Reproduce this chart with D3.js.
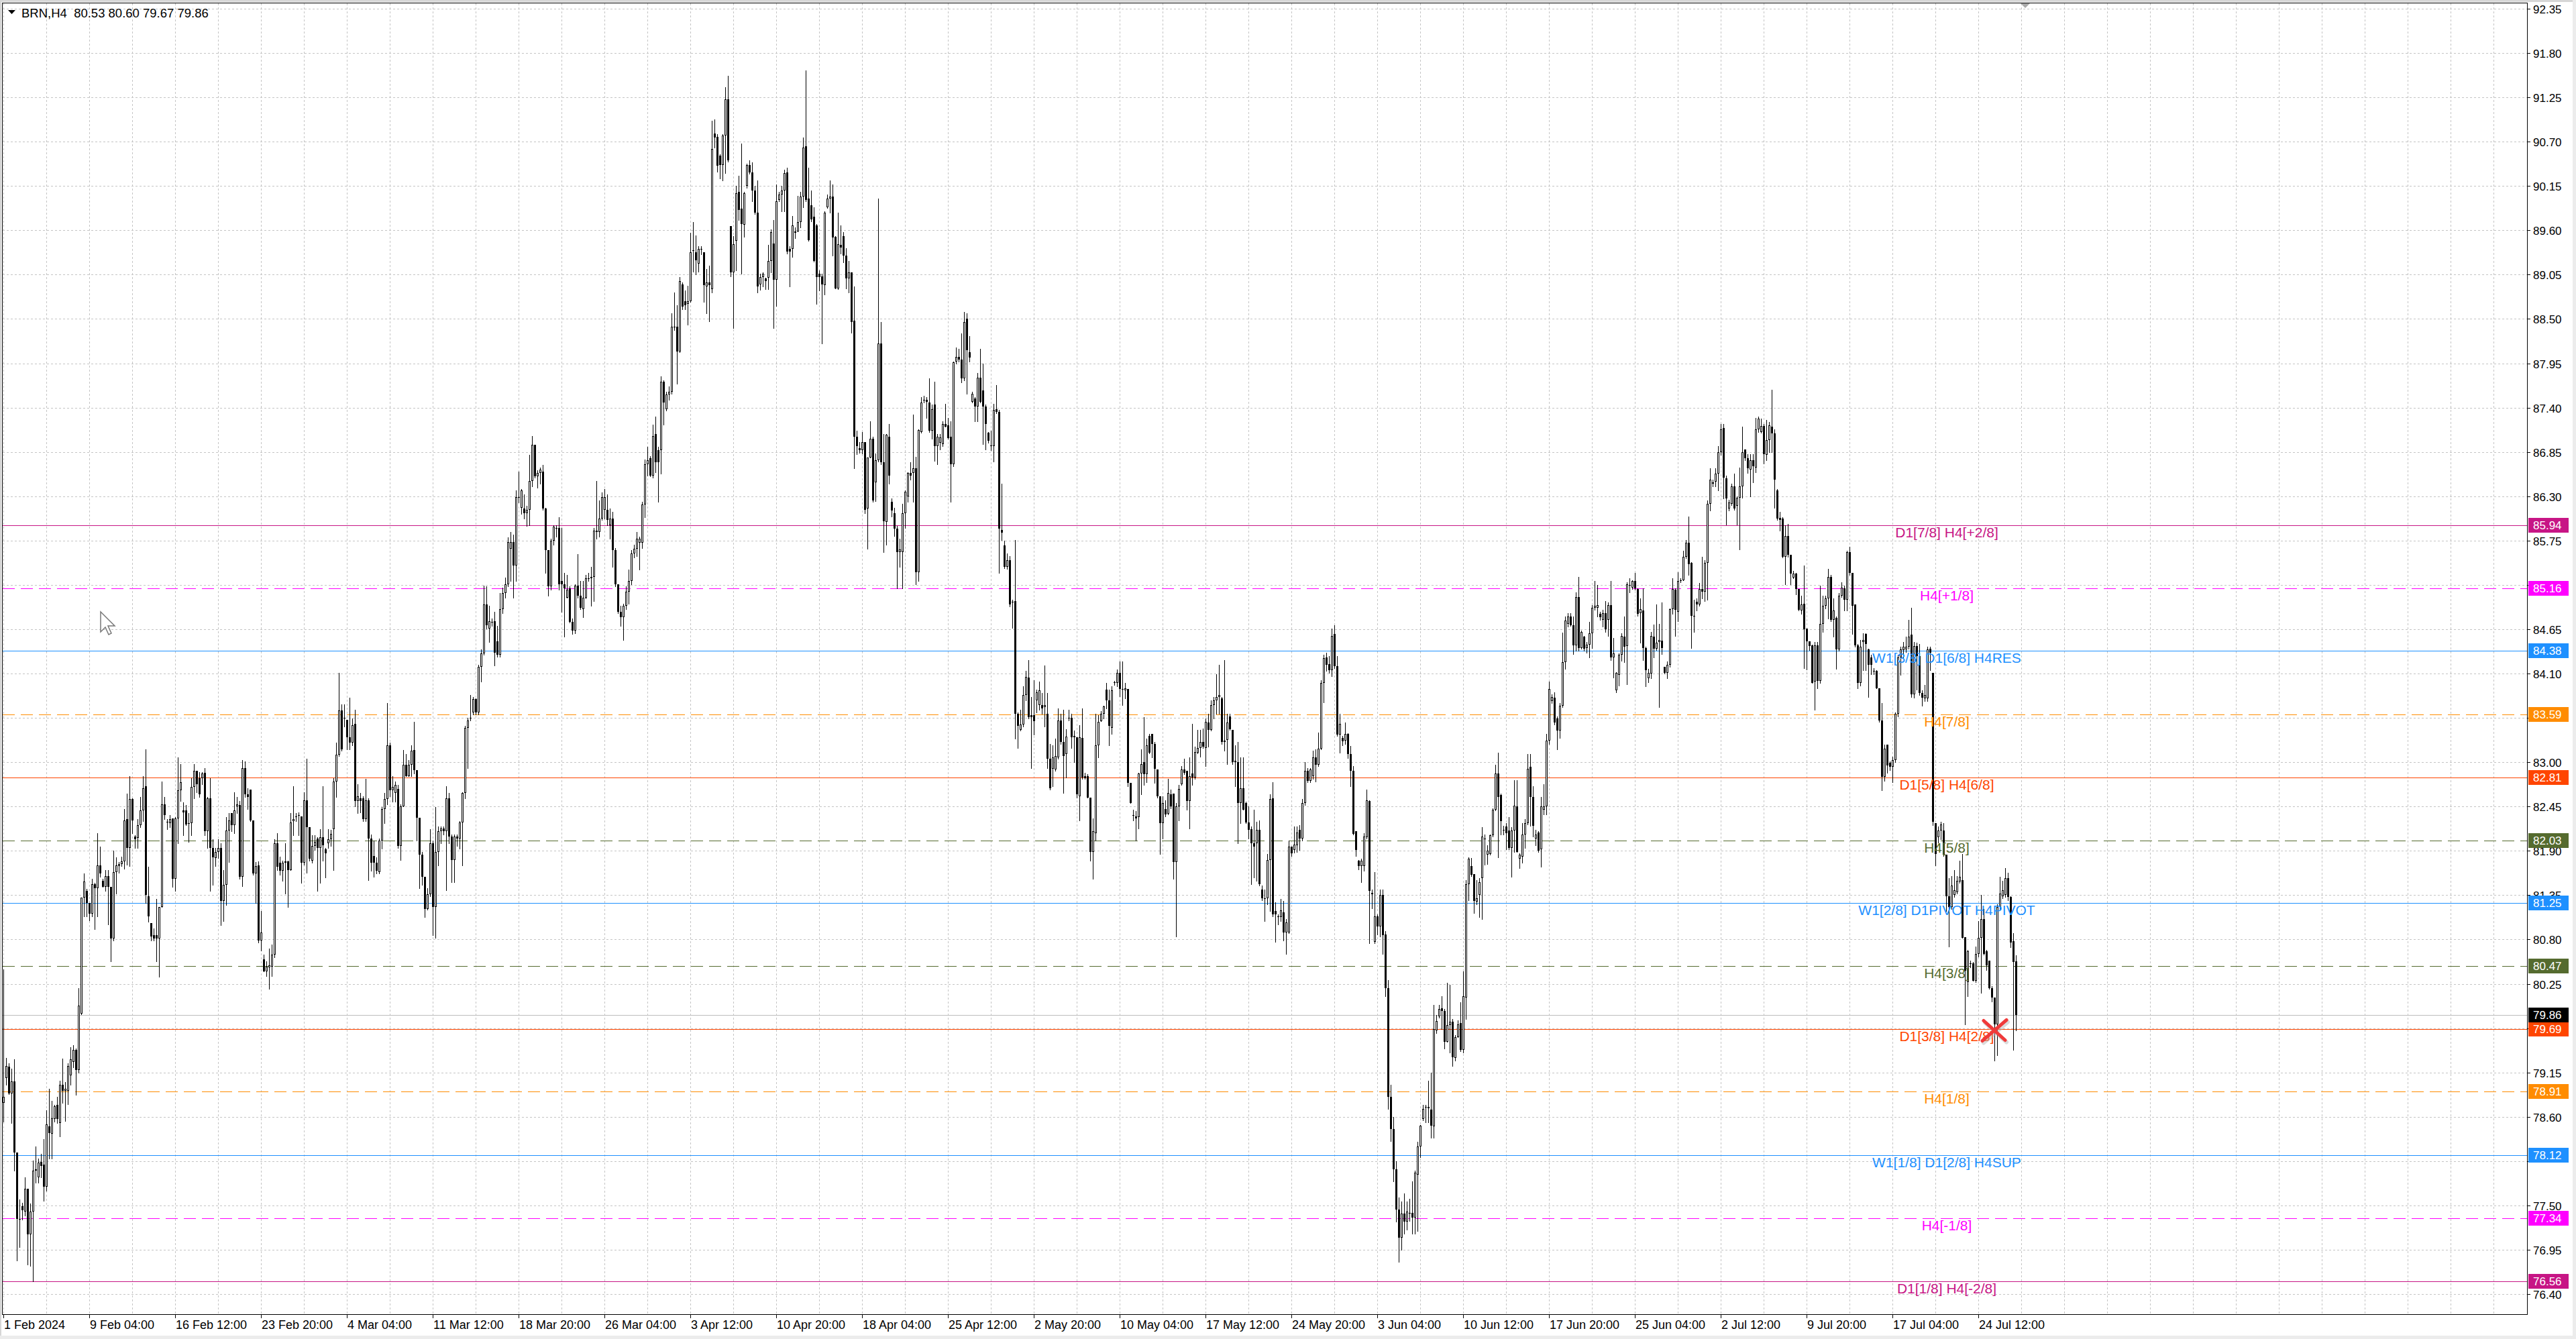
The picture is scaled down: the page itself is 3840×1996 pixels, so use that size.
<!DOCTYPE html>
<meta charset="utf-8">
<head>
<style>
body { margin: 0; background: #fff; overflow: hidden; }
svg { display: block; font-family: "Liberation Sans", Arial, sans-serif; }
.grid line { stroke: #c4c4c4; stroke-dasharray: 3,3; shape-rendering: crispEdges; }
.level { stroke-width: 1; shape-rendering: crispEdges; }
.candles { shape-rendering: crispEdges; }
.tick-text { font-size: 17px; fill: #000; }
.time-text { font-size: 18px; fill: #000; }
.level-text { font-size: 21px; }
.header { font-size: 18.5px; white-space: pre; }
</style>
</head>
<body>
<svg width="3840" height="1996"></svg>
<script src="https://d3js.org/d3.v7.min.js"></script>
<script>

// BRN H4 bars, 1 Feb 2024 -> 26 Jul 2024: open, high, low, close
var candles = [
[78.77,80.43,78.54,78.85],[79.08,79.33,79.00,79.23],[79.22,79.26,78.88,78.89],[78.89,79.20,78.52,79.04],[79.04,79.31,77.93,78.16],[78.16,78.16,76.82,77.33],
[77.33,77.57,76.98,77.33],[77.49,77.53,77.32,77.44],[77.42,77.85,77.37,77.71],[77.71,77.71,76.77,77.14],[77.14,77.52,76.75,77.42],[77.42,78.06,76.56,77.93],
[77.93,78.23,77.78,77.95],[77.85,78.08,77.78,78.03],[78.04,78.14,77.85,77.99],[78.01,78.32,77.56,77.73],[77.73,78.68,77.68,78.51],[78.48,78.95,78.08,78.40],
[78.39,78.80,78.08,78.58],[78.57,78.75,78.54,78.73],[78.75,78.85,78.52,78.57],[78.52,79.05,78.36,79.00],[79.00,79.32,78.77,78.92],[78.92,79.03,78.55,78.95],
[78.92,79.26,78.76,79.23],[79.11,79.46,79.00,79.31],[79.28,79.49,79.21,79.43],[79.43,79.45,78.87,79.18],[79.18,80.20,79.15,79.98],[79.88,81.32,79.87,81.32],
[81.32,81.62,81.09,81.52],[81.40,81.43,81.09,81.25],[81.25,81.25,81.04,81.12],[81.12,81.55,81.09,81.49],[81.49,81.50,80.93,81.44],[81.44,82.12,81.09,81.72],
[81.72,81.95,81.58,81.62],[81.53,81.55,81.45,81.45],[81.45,81.66,81.40,81.59],[81.59,81.66,80.99,81.45],[81.45,81.45,80.53,80.81],[80.81,81.90,80.79,81.64],
[81.64,81.82,81.37,81.72],[81.71,81.76,81.63,81.74],[81.74,81.83,81.71,81.77],[81.77,82.42,81.68,82.28],[82.29,82.61,81.73,81.94],[81.94,82.83,81.71,82.54],
[82.54,82.55,82.12,82.28],[82.08,82.09,81.94,82.04],[82.06,82.29,81.94,82.22],[82.22,82.57,82.19,82.40],[82.40,82.83,82.27,82.68],[82.70,83.16,81.25,81.35],
[81.34,81.70,81.02,81.09],[81.00,81.00,80.79,80.84],[80.85,80.94,80.79,80.81],[80.85,81.30,80.53,80.81],[80.81,81.20,80.34,81.20],[81.20,82.76,81.20,82.48],
[82.48,82.57,82.29,82.34],[82.26,82.29,82.17,82.25],[82.24,82.34,82.19,82.29],[82.30,82.30,81.45,81.55],[81.55,82.32,81.40,82.30],[82.30,83.06,81.99,82.65],
[82.65,82.98,82.52,82.75],[82.40,82.50,82.09,82.38],[82.40,82.47,82.22,82.23],[82.24,82.37,82.01,82.24],[82.24,82.80,82.09,82.69],[82.69,82.98,82.55,82.89],
[82.89,82.89,82.63,82.73],[82.80,82.88,82.57,82.60],[82.80,82.88,82.73,82.86],[82.87,82.93,82.09,82.14],[82.14,82.57,81.94,82.55],[82.55,82.80,81.40,81.94],
[81.94,82.04,81.48,81.82],[81.81,81.94,81.71,81.89],[81.89,82.04,81.81,81.94],[81.94,81.99,80.98,81.28],[81.28,81.66,81.03,81.48],[81.48,82.32,81.23,82.15],
[82.15,82.37,81.76,82.28],[82.37,82.37,82.14,82.22],[82.22,82.63,82.12,82.40],[82.45,82.57,82.37,82.48],[82.47,82.52,81.55,81.58],[81.58,83.03,81.46,82.93],
[82.93,83.01,82.57,82.60],[82.60,82.68,82.42,82.57],[82.66,82.66,82.27,82.28],[82.28,82.28,81.60,81.62],[81.62,81.76,81.25,81.71],[81.72,81.77,80.76,80.79],
[80.79,81.15,80.66,80.89],[80.55,80.61,80.40,80.40],[80.40,80.53,80.35,80.46],[80.45,80.69,80.19,80.48],[80.46,80.74,80.35,80.61],[80.61,82.04,80.58,81.99],
[81.99,82.12,81.66,81.70],[81.75,81.83,81.60,81.65],[81.65,81.78,81.53,81.75],[81.75,81.99,81.37,81.77],[81.77,81.78,81.20,81.66],[81.66,82.37,81.66,82.25],
[82.27,82.70,82.09,82.29],[82.32,82.37,82.27,82.33],[82.34,82.38,82.09,82.34],[82.33,82.33,81.50,81.75],[81.75,82.63,81.73,82.53],[82.53,83.04,81.63,82.19],
[82.19,82.19,81.78,81.80],[81.78,82.09,81.75,81.96],[81.96,82.09,81.91,82.01],[82.05,82.07,81.40,81.94],[81.94,82.17,81.50,82.07],[82.07,82.70,81.78,81.97],
[81.92,81.94,81.57,81.87],[81.99,82.17,81.94,82.04],[82.04,82.16,81.96,82.11],[82.17,82.80,81.66,82.76],[82.76,83.24,82.57,83.09],[83.09,84.11,83.08,83.64],
[83.64,83.72,83.14,83.16],[83.55,83.72,83.44,83.54],[83.53,83.53,83.16,83.31],[83.31,83.80,83.16,83.24],[83.24,83.54,83.21,83.46],[83.48,83.65,82.45,82.52],
[82.52,82.73,82.37,82.58],[82.55,82.62,82.38,82.52],[82.55,82.58,82.27,82.29],[82.29,82.79,82.27,82.53],[82.53,82.55,81.54,82.05],[82.05,82.10,81.65,81.75],
[81.84,82.03,81.58,81.75],[81.75,81.82,81.62,81.65],[81.64,82.05,81.62,82.03],[82.03,82.44,81.93,82.42],[82.42,82.62,82.24,82.54],[82.54,83.73,82.48,83.21],
[83.21,83.24,82.58,82.65],[82.65,82.83,82.51,82.69],[82.62,82.76,82.51,82.72],[82.67,82.72,81.94,81.96],[81.96,82.48,81.79,82.45],[82.45,83.15,82.45,82.97],
[82.97,83.10,82.83,82.83],[82.83,83.03,82.83,82.97],[82.97,83.21,82.83,83.14],[83.15,83.50,82.86,82.90],[82.90,82.90,82.03,82.31],[82.31,82.31,81.44,81.85],
[81.85,81.89,81.48,81.58],[81.58,81.58,81.08,81.18],[81.18,81.44,81.17,81.36],[81.36,82.17,81.34,81.99],[81.99,82.03,80.85,81.20],[81.20,82.44,80.82,81.89],
[81.89,82.20,81.72,82.14],[82.14,82.20,81.99,82.18],[82.18,82.20,82.10,82.14],[82.14,82.70,81.41,82.55],[82.55,82.62,81.99,82.08],[82.08,82.10,81.51,81.79],
[81.79,82.10,81.51,82.08],[82.08,82.10,81.96,82.05],[82.05,82.27,81.93,82.25],[82.25,82.63,81.72,82.62],[82.62,83.45,82.55,83.43],[83.43,83.55,82.93,83.52],
[83.55,83.83,83.52,83.55],[83.62,83.81,83.59,83.78],[83.78,83.79,83.59,83.62],[83.62,84.21,83.59,84.18],[84.18,84.40,84.00,84.35],[84.35,85.19,84.33,84.96],
[84.96,85.18,84.66,84.70],[84.66,84.94,84.49,84.75],[84.74,84.78,84.69,84.74],[84.75,84.87,84.20,84.36],[84.50,84.69,84.31,84.33],[84.33,85.10,84.31,84.90],
[84.90,85.17,84.85,85.10],[85.10,85.29,85.04,85.21],[85.21,85.79,85.18,85.73],[85.65,85.86,85.25,85.73],[85.73,85.82,85.04,85.44],[85.44,86.37,85.25,86.29],
[86.29,86.61,86.22,86.29],[86.16,86.39,86.08,86.37],[86.15,86.32,86.02,86.09],[86.09,86.18,85.93,86.13],[86.13,86.81,85.94,86.49],[86.49,87.05,86.42,86.94],
[86.94,86.94,86.53,86.55],[86.55,86.62,86.41,86.59],[86.59,86.66,86.46,86.63],[86.61,86.69,86.13,86.15],[86.15,86.16,85.35,85.63],[85.63,85.63,85.07,85.18],
[85.18,85.77,85.14,85.75],[85.75,85.94,85.70,85.92],[85.91,85.94,85.80,85.91],[85.91,86.04,85.14,85.21],[85.25,85.91,84.87,85.21],[85.21,85.35,84.56,85.16],
[85.04,85.32,85.04,85.14],[85.16,85.18,84.73,84.74],[84.74,84.78,84.59,84.63],[84.63,85.21,84.60,85.19],[85.19,85.58,85.04,85.07],[85.07,85.25,84.90,84.92],
[84.90,85.25,84.80,85.04],[85.04,85.32,85.03,85.28],[85.28,85.35,85.25,85.28],[85.28,85.42,84.94,85.30],[85.30,85.91,85.00,85.87],[85.86,86.49,85.77,85.87],
[85.86,86.25,85.80,86.02],[86.02,86.35,86.01,86.29],[86.13,86.39,86.02,86.29],[86.13,86.32,85.94,86.01],[85.94,86.15,85.77,86.02],[86.02,86.11,85.42,85.63],
[85.63,85.66,85.18,85.21],[85.21,85.21,84.85,84.87],[84.87,84.94,84.69,84.80],[84.80,84.97,84.52,84.94],[84.94,85.18,84.90,85.12],[85.12,85.39,84.97,85.25],
[85.25,85.63,85.21,85.59],[85.59,85.70,85.54,85.65],[85.65,85.86,85.56,85.77],[85.72,85.80,85.39,85.77],[85.72,86.23,85.66,86.20],[86.20,86.76,86.04,86.70],
[86.70,86.91,86.56,86.75],[86.77,86.80,86.55,86.56],[86.56,87.19,86.53,87.05],[87.07,87.29,86.60,86.72],[86.87,86.91,86.23,86.72],[86.87,87.79,86.58,87.72],
[87.72,87.74,87.19,87.46],[87.38,87.60,87.36,87.56],[87.56,87.66,87.50,87.60],[87.60,88.57,87.57,88.40],[88.40,88.83,88.36,88.40],[88.40,88.67,87.70,88.10],
[88.10,89.02,88.09,88.97],[88.93,88.95,88.62,88.65],[88.72,88.85,88.62,88.67],[88.69,88.91,88.43,88.72],[88.72,89.57,88.71,89.33],[89.35,89.70,89.09,89.35],
[89.33,89.54,89.05,89.23],[89.19,89.40,89.09,89.37],[89.37,89.40,89.30,89.37],[89.33,89.33,88.71,88.92],[88.90,89.12,88.57,88.95],[88.95,89.16,88.47,88.92],
[88.87,90.96,88.83,90.61],[90.80,90.98,90.63,90.75],[90.76,90.79,90.33,90.40],[90.53,90.54,90.24,90.41],[90.41,90.79,90.22,90.78],[90.78,91.38,90.31,91.23],
[91.23,91.52,90.45,90.47],[89.65,89.65,89.03,89.08],[89.08,89.53,88.39,89.43],[89.47,90.15,89.10,90.06],[90.08,90.28,89.73,89.85],[89.87,90.68,89.06,89.68],
[89.67,90.08,89.52,90.06],[90.15,90.43,90.13,90.41],[90.41,90.47,90.30,90.32],[90.32,90.44,89.96,90.09],[90.09,90.15,89.80,89.82],[89.82,90.22,88.83,88.90],
[88.93,89.06,88.86,89.02],[89.02,89.08,88.90,89.06],[89.00,89.01,88.87,88.97],[89.01,89.42,88.87,89.22],[89.22,89.61,89.08,89.58],[89.44,89.73,88.39,88.99],
[88.99,90.17,88.66,89.96],[89.98,90.08,89.96,90.04],[90.04,90.15,89.84,90.09],[90.09,90.35,89.84,90.31],[90.32,90.38,89.31,89.34],[89.37,89.40,88.90,89.34],
[89.37,89.78,89.27,89.66],[89.57,89.64,89.50,89.59],[89.59,90.03,89.59,89.70],[89.70,90.08,89.64,90.02],[90.02,90.75,89.89,90.63],[90.64,91.58,89.96,89.98],
[89.99,90.38,89.47,89.48],[89.91,90.09,89.71,89.74],[89.77,89.89,89.21,89.22],[89.66,89.68,88.69,89.02],[89.06,89.10,88.85,89.02],[89.03,89.06,88.20,88.93],
[88.92,89.84,88.80,89.82],[89.89,90.04,89.88,89.99],[89.99,90.22,89.82,90.02],[90.02,90.17,89.29,89.51],[89.52,89.53,88.88,88.88],[88.88,89.82,88.87,89.43],
[89.42,89.66,89.31,89.39],[89.53,89.58,89.20,89.29],[89.29,89.38,88.88,89.00],[89.00,89.22,88.83,89.08],[89.08,89.08,88.33,88.46],[88.48,88.90,86.65,87.04],
[87.04,87.11,86.82,86.92],[86.90,86.97,86.84,86.87],[86.87,87.10,86.83,86.97],[86.97,86.97,86.09,86.13],[86.15,86.78,85.65,86.78],[86.78,87.23,86.78,87.01],
[87.01,87.04,86.23,86.25],[86.47,86.83,86.24,86.75],[86.75,89.99,86.73,88.20],[88.20,88.46,86.70,86.72],[86.72,87.07,85.61,85.99],[85.98,87.07,85.70,87.06],
[87.04,87.20,86.46,86.56],[86.23,86.27,86.05,86.12],[86.09,86.16,85.81,85.90],[85.90,85.93,85.16,85.61],[85.61,85.77,85.42,85.64],[85.61,86.21,85.16,86.09],
[86.09,86.37,85.91,86.36],[86.30,86.60,86.23,86.59],[86.59,86.72,86.51,86.56],[86.59,87.31,86.23,86.65],[86.65,86.79,85.21,85.36],[85.36,87.13,85.25,87.12],
[87.10,87.53,87.09,87.46],[87.50,87.55,87.46,87.50],[87.50,87.53,87.27,87.47],[87.46,87.76,87.10,87.11],[87.11,87.44,87.01,87.38],[87.44,87.72,86.74,86.92],
[86.92,87.07,86.70,87.04],[86.96,87.07,86.88,87.03],[86.95,87.23,86.92,87.20],[87.20,87.45,87.16,87.16],[87.18,87.27,87.01,87.02],[87.04,87.23,86.23,86.70],
[86.70,87.97,86.67,87.96],[87.97,88.15,87.95,88.03],[88.03,88.13,87.97,88.00],[88.00,88.32,87.71,87.76],[87.76,88.59,87.74,88.46],[88.50,88.57,87.57,88.11],
[88.09,88.29,87.97,88.02],[87.47,87.60,87.46,87.57],[87.51,87.53,87.23,87.41],[87.41,87.83,87.23,87.77],[87.77,88.13,87.46,87.47],[87.61,87.95,86.95,87.41],
[87.41,87.44,86.88,87.20],[87.09,87.10,86.96,86.99],[86.93,87.11,86.87,86.93],[86.92,87.45,86.73,87.37],[87.38,87.68,87.33,87.35],[87.35,87.37,85.35,85.90],
[85.88,86.46,85.76,85.85],[85.69,85.75,85.41,85.42],[85.42,85.59,85.40,85.51],[85.51,85.56,84.93,84.96],[84.99,85.02,84.67,84.99],[85.00,85.76,83.29,83.60],
[83.60,83.62,83.18,83.45],[83.40,83.65,83.39,83.47],[83.47,83.94,83.44,83.83],[83.83,84.13,83.77,84.06],[84.05,84.27,83.54,83.56],[83.58,83.81,82.93,83.56],
[83.58,84.02,83.34,83.51],[83.77,83.90,83.62,83.87],[83.71,84.00,83.65,83.89],[83.71,83.86,83.60,83.67],[83.68,84.20,83.44,83.71],[83.60,83.86,82.93,83.04],
[83.04,83.23,82.66,82.68],[82.92,83.21,82.70,83.06],[82.91,83.29,82.89,83.08],[83.06,83.67,83.04,83.52],[83.52,83.60,83.23,83.25],[83.25,83.65,82.62,83.08],
[83.10,83.41,82.81,83.32],[83.55,83.65,83.52,83.55],[83.55,83.60,83.18,83.31],[83.31,83.39,83.00,83.33],[83.31,83.31,82.56,82.60],[82.58,83.46,82.28,83.31],
[83.30,83.67,82.79,82.81],[82.83,82.87,82.79,82.80],[82.83,82.85,82.56,82.56],[82.56,82.56,81.78,81.89],[81.89,82.30,81.55,82.14],[82.12,83.60,82.03,83.21],
[83.21,83.58,83.06,83.50],[83.51,83.63,83.51,83.60],[83.60,83.70,83.54,83.69],[83.90,83.98,83.67,83.77],[83.77,83.90,83.21,83.45],[83.43,83.94,83.35,83.89],
[83.98,84.01,83.96,83.99],[83.98,84.15,83.94,84.11],[84.11,84.25,83.82,83.91],[83.91,84.25,83.71,83.90],[83.89,83.98,83.79,83.92],[83.91,83.91,82.70,82.74],
[82.74,82.74,82.49,82.49],[82.34,82.41,82.28,82.34],[82.33,82.39,82.03,82.30],[82.32,82.87,82.18,82.86],[82.86,83.16,82.60,82.98],[83.00,83.56,82.72,82.85],
[82.85,83.29,82.75,83.21],[83.33,83.35,83.11,83.12],[83.35,83.35,83.06,83.23],[83.23,83.25,82.74,82.92],[82.91,82.91,82.56,82.58],[82.58,82.58,81.86,82.24],
[82.24,82.58,82.05,82.49],[82.42,82.53,82.33,82.35],[82.36,82.79,82.35,82.62],[82.60,82.66,82.43,82.45],[82.61,82.61,81.55,81.76],[81.76,82.49,80.84,82.45],
[82.45,82.72,82.28,82.67],[82.73,82.95,82.72,82.91],[82.91,83.04,82.85,82.87],[82.89,82.89,82.41,82.52],[82.52,83.06,82.18,82.83],[82.86,83.48,82.72,82.81],
[82.81,83.19,82.79,83.13],[83.12,83.40,83.11,83.18],[83.18,83.40,83.07,83.25],[83.25,83.42,83.18,83.19],[83.18,83.54,82.95,83.50],[83.49,83.60,83.19,83.40],
[83.40,83.77,83.39,83.71],[83.71,83.81,83.54,83.77],[83.77,84.09,83.60,83.81],[83.81,84.21,83.60,83.83],[83.79,83.81,83.23,83.25],[83.25,84.27,83.14,83.27],
[83.28,83.60,82.98,83.49],[83.57,83.60,83.40,83.41],[83.40,83.40,82.98,83.00],[83.02,83.21,82.70,83.00],[83.00,83.25,81.99,82.49],[82.49,83.06,82.24,82.68],
[82.68,83.06,82.41,82.41],[82.49,82.51,82.24,82.25],[82.25,82.45,82.05,82.16],[82.17,82.20,81.49,81.99],[81.99,82.41,81.57,81.95],[81.99,82.26,81.53,82.16],
[82.16,82.28,81.47,81.49],[81.42,81.47,81.29,81.31],[81.31,81.42,81.03,81.31],[81.31,81.86,81.24,81.79],[81.79,82.60,81.15,82.54],[82.55,82.75,81.09,81.11],
[81.15,81.26,80.77,81.11],[81.09,81.11,80.99,81.08],[81.08,81.30,81.03,81.16],[81.14,81.28,80.79,80.89],[80.89,81.05,80.62,81.01],[80.89,82.03,80.88,81.95],
[81.95,81.95,81.84,81.87],[81.91,82.20,81.88,81.98],[81.97,82.20,81.89,82.13],[82.16,82.22,81.91,82.05],[82.05,82.54,82.03,82.49],[82.49,83.00,82.47,82.89],
[82.89,82.93,82.75,82.77],[82.77,82.93,82.75,82.91],[82.83,83.14,82.79,83.06],[83.06,83.16,82.76,82.97],[82.97,83.37,82.95,83.17],[83.17,84.02,83.16,83.98],
[83.98,84.33,83.74,84.29],[84.30,84.36,84.13,84.21],[84.22,84.32,84.11,84.14],[84.14,84.66,84.07,84.57],[84.59,84.70,84.17,84.19],[84.19,84.32,83.33,83.34],
[83.34,83.60,83.12,83.48],[83.30,83.33,83.21,83.26],[83.27,83.49,83.23,83.35],[83.35,83.36,83.05,83.10],[83.10,83.20,82.70,82.89],[82.89,82.95,82.10,82.11],
[82.14,82.14,81.84,81.91],[81.78,81.79,81.67,81.71],[81.71,81.80,81.51,81.78],[81.71,82.12,81.65,82.08],[82.07,82.66,82.05,82.53],[82.52,82.53,80.75,81.40],
[81.38,81.42,81.19,81.36],[80.77,81.64,80.75,81.09],[81.09,81.11,80.86,80.96],[80.96,81.42,80.84,81.35],[81.35,81.42,80.62,80.85],[80.86,80.90,80.10,80.20],
[80.20,80.30,78.70,78.85],[78.85,79.00,78.30,78.45],[78.45,78.60,77.80,77.95],[77.95,78.05,77.30,77.45],[77.45,77.60,76.80,77.10],[77.10,77.55,76.95,77.40],
[77.40,77.65,77.15,77.30],[77.30,77.55,77.20,77.42],[77.41,77.58,77.31,77.41],[77.41,77.80,77.15,77.35],[77.35,77.93,77.15,77.91],[77.88,78.29,77.18,78.23],
[78.23,78.50,78.10,78.49],[78.57,78.75,78.56,78.70],[78.72,78.75,78.53,78.72],[78.72,79.05,78.53,78.71],[78.69,79.15,78.34,78.49],[78.48,79.99,78.34,79.69],
[79.67,79.86,79.64,79.79],[79.85,79.99,79.83,79.94],[79.95,80.10,79.69,79.91],[79.91,79.94,79.45,79.53],[79.53,80.26,79.53,79.74],[79.74,80.24,79.40,79.78],
[79.78,79.81,79.23,79.34],[79.33,79.61,79.30,79.59],[79.59,79.80,79.59,79.75],[79.76,80.02,79.41,79.43],[79.43,80.40,79.40,80.10],[80.08,81.54,79.81,81.49],
[81.49,81.82,81.29,81.80],[81.71,81.81,81.59,81.60],[81.61,81.61,81.13,81.28],[81.27,81.54,81.24,81.31],[81.35,81.56,81.08,81.51],[81.56,82.19,81.05,82.08],
[82.05,82.10,81.73,82.05],[81.85,81.97,81.74,81.90],[81.86,82.10,81.85,82.09],[82.09,82.43,82.08,82.41],[82.41,82.97,82.40,82.86],[82.86,83.12,81.82,82.57],
[82.59,82.61,82.10,82.27],[82.16,82.21,82.10,82.16],[82.20,82.24,81.92,82.12],[82.15,82.32,81.92,81.94],[81.94,82.19,81.58,82.15],[82.15,82.78,81.89,82.46],
[82.45,82.78,81.89,81.89],[81.80,81.87,81.69,81.85],[81.83,82.24,81.75,82.10],[82.10,82.29,81.94,82.24],[82.24,83.10,82.23,82.92],[82.94,83.10,82.21,82.57],
[82.57,82.70,82.08,82.21],[82.05,82.16,81.97,82.10],[82.13,82.14,81.89,81.90],[81.92,82.57,81.70,82.45],[82.41,82.73,82.35,82.45],[82.45,83.35,82.35,83.27],
[83.27,84.00,83.23,83.91],[83.76,83.84,83.73,83.81],[83.80,83.87,83.47,83.49],[83.54,83.57,83.16,83.39],[83.39,83.73,83.30,83.70],[83.70,84.61,83.68,84.24],
[84.24,84.81,84.16,84.76],[84.72,84.85,84.68,84.81],[84.81,84.85,84.69,84.70],[84.70,84.81,84.34,84.45],[84.45,85.11,84.38,85.05],[85.05,85.30,84.38,84.42],
[84.42,84.63,84.41,84.62],[84.56,84.57,84.38,84.41],[84.42,84.49,84.36,84.46],[84.46,84.74,84.30,84.60],[84.60,84.95,84.42,84.92],[84.92,85.25,84.89,84.94],
[84.92,85.20,84.81,84.95],[84.84,84.87,84.77,84.80],[84.77,84.89,84.68,84.85],[84.85,85.00,84.62,84.65],[84.77,84.98,84.57,84.95],[84.95,85.25,84.27,84.30],
[84.30,84.54,84.05,84.35],[83.89,84.12,83.87,84.11],[84.08,84.35,83.95,84.33],[84.33,84.60,84.26,84.57],[84.56,84.81,84.24,84.43],[84.44,85.23,83.97,85.21],
[85.20,85.28,85.11,85.20],[85.17,85.26,85.15,85.25],[85.25,85.35,85.14,85.16],[85.15,85.16,84.82,84.84],[84.85,85.03,84.48,84.90],[84.88,85.16,84.27,84.42],
[84.42,84.43,83.94,84.14],[84.04,84.16,83.99,84.11],[84.10,84.62,84.04,84.57],[84.56,84.71,84.30,84.41],[84.41,84.96,84.39,84.48],[84.49,84.72,83.68,84.52],
[84.51,84.98,84.34,84.42],[84.18,84.18,84.10,84.11],[84.11,84.25,84.04,84.21],[84.21,84.91,84.18,84.90],[84.90,85.28,84.84,85.15],[85.14,85.16,84.57,84.89],
[84.87,85.36,84.75,85.25],[85.26,85.28,85.23,85.26],[85.26,85.62,85.26,85.55],[85.55,85.76,85.53,85.72],[85.72,86.05,85.32,85.46],[85.47,85.48,84.42,84.82],
[84.82,85.02,84.62,84.82],[84.99,85.03,84.88,84.96],[84.96,85.22,84.94,85.15],[85.15,85.55,85.03,85.12],[85.12,85.51,85.00,85.47],[85.47,86.25,85.02,86.21],
[86.21,86.65,86.12,86.51],[86.46,86.51,86.42,86.47],[86.48,86.65,86.42,86.58],[86.58,86.92,86.37,86.85],[86.85,87.20,86.81,87.13],[87.15,87.20,86.27,86.53],
[86.52,86.56,85.95,86.27],[86.15,86.26,86.12,86.22],[86.21,86.46,86.19,86.42],[86.42,86.58,86.13,86.15],[86.18,86.30,85.95,86.28],[86.28,86.66,85.64,86.42],
[86.42,87.16,86.28,86.85],[86.88,86.88,86.75,86.77],[86.77,86.82,86.59,86.65],[86.63,86.82,86.30,86.75],[86.75,86.82,86.47,86.67],[86.66,87.27,86.60,87.13],
[87.13,87.29,87.10,87.26],[87.10,87.26,87.09,87.17],[87.17,87.20,86.71,86.82],[86.81,87.25,86.75,87.00],[87.00,87.22,86.85,87.18],[87.16,87.62,86.85,87.08],
[87.08,87.13,86.16,86.51],[86.37,86.39,86.01,86.02],[86.03,86.11,85.87,86.01],[86.02,86.04,85.54,85.55],[85.55,85.94,85.21,85.81],[85.81,85.96,85.55,85.57],
[85.57,85.57,85.21,85.34],[85.29,85.37,85.28,85.34],[85.34,85.35,85.08,85.15],[85.15,85.15,84.88,84.89],[84.88,85.07,84.84,84.96],[84.97,85.44,84.17,84.65],
[84.66,84.66,84.15,84.50],[84.50,84.50,84.39,84.44],[84.45,84.46,83.98,83.98],[84.00,84.49,83.65,84.45],[84.45,84.49,83.92,84.01],[84.01,85.19,83.98,84.72],
[84.72,85.07,84.62,84.94],[84.94,85.07,84.91,85.03],[85.03,85.40,84.78,85.30],[85.30,85.32,84.75,84.77],[84.77,85.03,84.56,84.88],[84.79,84.81,84.16,84.40],
[84.40,85.10,84.38,85.07],[85.07,85.23,85.05,85.17],[85.16,85.19,84.88,85.02],[85.02,85.62,84.88,85.61],[85.61,85.67,85.32,85.35],[85.35,85.35,84.59,84.94],
[84.96,84.96,84.43,84.45],[84.45,84.47,83.92,83.98],[83.98,84.52,83.95,84.43],[84.49,84.60,84.14,84.52],[84.59,84.60,84.14,84.47],[84.40,84.41,83.81,84.21],
[84.30,84.33,84.09,84.21],[84.13,84.17,84.09,84.13],[84.13,84.14,83.92,83.92],[83.92,83.92,83.50,83.52],[83.52,83.73,82.65,82.82],[82.82,83.22,82.77,83.17],
[83.22,83.22,82.87,82.96],[82.99,83.01,82.90,82.94],[82.94,83.07,82.75,83.03],[83.03,83.62,83.00,83.60],[83.60,84.33,83.57,84.30],[84.30,84.43,84.08,84.40],
[84.39,84.49,84.30,84.43],[84.40,84.56,84.37,84.43],[84.43,84.77,84.41,84.56],[84.58,84.92,83.81,83.84],[83.84,84.49,83.80,84.44],[84.44,84.48,83.90,84.32],
[84.32,84.47,83.83,83.86],[83.86,83.89,83.70,83.80],[83.79,83.96,83.76,83.83],[83.79,84.43,83.76,84.40],[84.41,84.43,84.14,84.36],[84.11,84.11,82.22,82.26],
[82.24,82.24,81.72,81.86],[82.07,82.20,82.00,82.15],[82.15,82.26,82.04,82.23],[82.15,82.24,81.84,81.85],[81.85,81.85,81.15,81.34],[81.34,81.56,80.71,81.20],
[81.20,81.59,81.18,81.47],[81.35,81.66,81.33,81.41],[81.39,81.59,81.37,81.53],[81.52,81.78,81.50,81.58],[81.54,81.86,80.82,80.82],[80.83,80.83,79.75,80.41],
[80.27,80.67,80.10,80.65],[80.50,80.54,80.45,80.50],[80.50,80.52,80.29,80.29],[80.29,80.71,80.27,80.62],[80.62,81.03,80.59,80.82],[80.82,81.35,80.14,81.05],
[81.05,81.18,80.61,80.62],[80.65,80.67,80.42,80.48],[80.54,80.54,80.19,80.20],[80.20,80.22,80.03,80.08],[80.08,80.08,79.30,79.75],[79.75,81.24,79.36,81.20],
[81.20,81.58,81.18,81.37],[81.34,81.53,81.31,81.41],[81.35,81.69,81.33,81.56],[81.56,81.63,81.29,81.33],[81.33,81.34,80.70,80.76],[80.78,80.88,79.43,80.52],
[80.53,80.60,79.67,79.86]
];

var timeLabels = ["1 Feb 2024", "9 Feb 04:00", "16 Feb 12:00", "23 Feb 20:00", "4 Mar 04:00", "11 Mar 12:00",
  "18 Mar 20:00", "26 Mar 04:00", "3 Apr 12:00", "10 Apr 20:00", "18 Apr 04:00", "25 Apr 12:00",
  "2 May 20:00", "10 May 04:00", "17 May 12:00", "24 May 20:00", "3 Jun 04:00", "10 Jun 12:00",
  "17 Jun 20:00", "25 Jun 04:00", "2 Jul 12:00", "9 Jul 20:00", "17 Jul 04:00", "24 Jul 12:00"];
var timeLabelBars = [0, 32, 64, 96, 128, 160, 192, 224, 256, 288, 320, 352,
  384, 416, 448, 480, 512, 544, 576, 608, 640, 672, 704, 736];

var priceTicks = ["92.35", "91.80", "91.25", "90.70", "90.15", "89.60", "89.05", "88.50", "87.95", "87.40",
  "86.85", "86.30", "85.75", "85.20", "84.65", "84.10", "83.55", "83.00", "82.45", "81.90",
  "81.35", "80.80", "80.25", "79.70", "79.15", "78.60", "78.05", "77.50", "76.95", "76.40"];

var levelPrices = [85.94, 85.16, 84.38, 83.59, 82.81, 82.03, 81.25, 80.47, 79.69, 78.91, 78.12, 77.34, 76.56];
var levelNames = ["D1[7/8] H4[+2/8]", "H4[+1/8]", "W1[3/8] D1[6/8] H4RES", "H4[7/8]", "D1[5/8] H4[6/8]",
  "H4[5/8]", "W1[2/8] D1PIVOT H4PIVOT", "H4[3/8]", "D1[3/8] H4[2/8]", "H4[1/8]",
  "W1[1/8] D1[2/8] H4SUP", "H4[-1/8]", "D1[1/8] H4[-2/8]"];

var bidPrice = 79.86;
var markPrice = 79.69, markBar = 742;
var header = "BRN,H4  80.53 80.60 79.67 79.86";

// styles for the levels (same order as levelPrices)
var levelColors = ["#C71585", "#FF00FF", "#1E90FF", "#FF8C00", "#FF4500", "#556B2F",
  "#1E90FF", "#556B2F", "#FF4500", "#FF8C00", "#1E90FF", "#FF00FF", "#C71585"];
var levelDashed = [0, 1, 0, 1, 0, 1, 0, 1, 0, 1, 0, 1, 0];

var svg = d3.select("svg"),
    plotLeft = 3,
    plotRight = 3767,
    plotTop = 4,
    plotBottom = 1959;

var x = d3.scaleLinear().domain([0, candles.length - 1]).range([5, 3005]);
var y = d3.scaleLinear().domain([92.35, 76.40]).range([13, 1929]);

function py(p) { return Math.round(y(p)) + 0.5; }
function px(i) { return Math.round(x(i)); }

// window frame
svg.append("rect").attr("width", 3840).attr("height", 1996).attr("fill", "#fff");
svg.append("rect").attr("width", 3840).attr("height", 3).attr("fill", "#d6d6d6");
svg.append("rect").attr("width", 2).attr("height", 1996).attr("fill", "#d6d6d6");
svg.append("rect").attr("x", 3835).attr("width", 5).attr("height", 1996).attr("fill", "#ececec");
svg.append("rect").attr("y", 1991).attr("width", 3840).attr("height", 5).attr("fill", "#ececec");

// grid
var grid = svg.append("g").attr("class", "grid");
grid.selectAll(".gh")
  .data(priceTicks)
  .enter().append("line")
    .attr("x1", plotLeft + 1).attr("x2", plotRight)
    .attr("y1", function(d) { return py(+d); })
    .attr("y2", function(d) { return py(+d); });
grid.selectAll(".gv")
  .data(d3.range(0, 59).map(function(k) { return k * 16; }))
  .enter().append("line")
    .attr("x1", function(d) { return px(d) + 0.5; })
    .attr("x2", function(d) { return px(d) + 0.5; })
    .attr("y1", plotTop + 1).attr("y2", plotBottom);

// level lines
svg.append("g").selectAll("line")
  .data(levelPrices)
  .enter().append("line")
    .attr("class", "level")
    .attr("x1", plotLeft + 1).attr("x2", plotRight)
    .attr("y1", function(d) { return py(d); })
    .attr("y2", function(d) { return py(d); })
    .attr("stroke", function(d, i) { return levelColors[i]; })
    .attr("stroke-dasharray", function(d, i) { return levelDashed[i] ? "18,9" : null; });

// bid line
svg.append("line")
    .attr("class", "level")
    .attr("x1", plotLeft + 1).attr("x2", plotRight)
    .attr("y1", py(bidPrice)).attr("y2", py(bidPrice))
    .attr("stroke", "#bdbdbd");

// candles
var cg = svg.append("g").attr("class", "candles");
var bar = cg.selectAll("g")
  .data(candles)
  .enter().append("g");

bar.append("line")
    .attr("x1", function(d, i) { return px(i) + 0.5; })
    .attr("x2", function(d, i) { return px(i) + 0.5; })
    .attr("y1", function(d) { return Math.round(y(d[1])); })
    .attr("y2", function(d) { return Math.round(y(d[2])) + 1; })
    .attr("stroke", "#000");

bar.each(function(d, i) {
  var g = d3.select(this),
      cx = px(i),
      yo = Math.round(y(d[0])),
      yc = Math.round(y(d[3]));
  if (d[3] > d[0] && yo - yc >= 2) {
    g.append("rect")
      .attr("x", cx - 0.5).attr("y", yc + 0.5)
      .attr("width", 2).attr("height", yo - yc - 1)
      .attr("fill", "#fff").attr("stroke", "#000");
  } else {
    var top = Math.min(yo, yc), h = Math.max(1, Math.abs(yo - yc));
    g.append("rect")
      .attr("x", cx - 1).attr("y", top)
      .attr("width", 3).attr("height", h)
      .attr("fill", "#000");
  }
});

// level labels
svg.append("g").selectAll("text")
  .data(levelPrices)
  .enter().append("text")
    .attr("class", "level-text")
    .attr("x", 2902)
    .attr("y", function(d) { return py(d) + 17; })
    .attr("text-anchor", "middle")
    .attr("fill", function(d, i) { return levelColors[i]; })
    .text(function(d, i) { return levelNames[i]; });

// red cross at the low
var mx = px(markBar) - 2, my = py(markPrice);
var crossPath = "M" + (mx - 16) + "," + (my + 17) + "L" + (mx + 20) + "," + (my - 14) +
                "M" + (mx - 14) + "," + (my - 13) + "L" + (mx + 18) + "," + (my + 16);
var cross = svg.append("g").attr("stroke-linecap", "round").attr("fill", "none");
cross.append("path")
    .attr("d", crossPath)
    .attr("transform", "translate(2,3)")
    .attr("stroke", "#b0b0b0").attr("stroke-opacity", 0.45).attr("stroke-width", 6);
cross.append("path")
    .attr("d", crossPath)
    .attr("stroke", "#f03a3a").attr("stroke-width", 5);

// plot frame
svg.append("rect")
    .attr("x", plotLeft + 0.5).attr("y", plotTop + 0.5)
    .attr("width", plotRight - plotLeft).attr("height", plotBottom - plotTop)
    .attr("fill", "none").attr("stroke", "#000").attr("shape-rendering", "crispEdges");

// price axis: the terminal hides tick labels that sit under a level box
var boxPrices = levelPrices.concat([bidPrice]);
function hidden(d) {
  return boxPrices.some(function(b) { return Math.abs(y(b) - y(+d)) < 9; });
}
var pa = svg.append("g");
pa.selectAll("line")
  .data(priceTicks)
  .enter().append("line")
    .attr("x1", plotRight).attr("x2", plotRight + 5)
    .attr("y1", function(d) { return py(+d); })
    .attr("y2", function(d) { return py(+d); })
    .attr("stroke", "#000").attr("shape-rendering", "crispEdges");
pa.selectAll("text")
  .data(priceTicks.filter(function(d) { return !hidden(d); }))
  .enter().append("text")
    .attr("class", "tick-text")
    .attr("x", 3776)
    .attr("y", function(d) { return py(+d); })
    .attr("dy", "0.36em")
    .text(function(d) { return d; });

var boxes = svg.append("g").selectAll("g")
  .data(boxPrices)
  .enter().append("g")
    .attr("transform", function(d) { return "translate(3769," + (py(d) - 11.5) + ")"; });
boxes.append("rect")
    .attr("width", 60).attr("height", 22)
    .attr("fill", function(d, i) { return i < levelColors.length ? levelColors[i] : "#000"; });
boxes.append("text")
    .attr("class", "tick-text")
    .attr("x", 7).attr("y", 11).attr("dy", "0.36em")
    .style("fill", "#fff")
    .text(function(d) { return d.toFixed(2); });

// time axis
var ta = svg.append("g");
ta.selectAll("line")
  .data(timeLabelBars)
  .enter().append("line")
    .attr("x1", function(d) { return px(d) + 0.5; })
    .attr("x2", function(d) { return px(d) + 0.5; })
    .attr("y1", plotBottom).attr("y2", plotBottom + 6)
    .attr("stroke", "#000").attr("shape-rendering", "crispEdges");
ta.selectAll("text")
  .data(timeLabelBars)
  .enter().append("text")
    .attr("class", "time-text")
    .attr("x", function(d) { return px(d) + 1; })
    .attr("y", 1981)
    .text(function(d, i) { return timeLabels[i]; });

// header
svg.append("path").attr("d", "M12,15L23,15L17.5,21Z").attr("fill", "#000");
svg.append("text")
    .attr("class", "header")
    .attr("x", 32).attr("y", 26)
    .text(header);

// chart shift marker
svg.append("path")
    .attr("d", "M" + (px(751) + 3) + ",5L" + (px(751) + 17) + ",5L" + (px(751) + 10) + ",12Z")
    .attr("fill", "#a8a8a8");

// mouse pointer
svg.append("path")
    .attr("d", "M0,0L0,30L7,23L12,34L16,32L11,21L21,21Z")
    .attr("transform", "translate(150,912)")
    .attr("fill", "#fff").attr("stroke", "#777").attr("stroke-width", 1.5);

</script>
</body>
</html>
